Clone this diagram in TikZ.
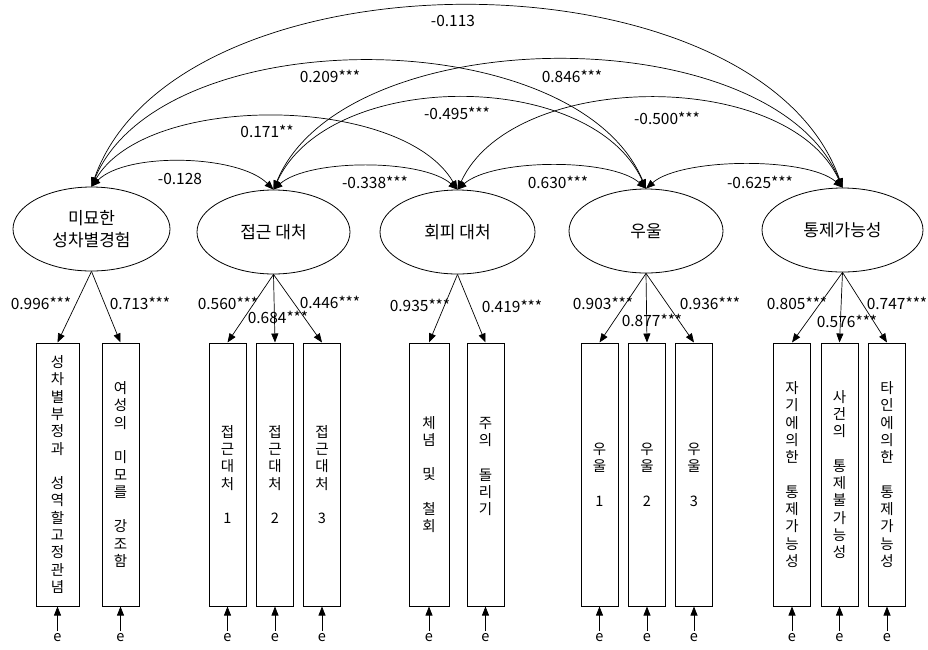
\documentclass[tikz,border=0pt]{standalone}
\usepackage{fontspec}
\setmainfont{Noto Sans CJK KR}
\usetikzlibrary{shapes.geometric,arrows.meta}
\tikzset{
  lat/.style={draw, ellipse, line width=0.8pt, minimum width=155pt, minimum height=84pt, inner sep=0pt, align=center, font=\fontsize{17}{22}\selectfont},
  obs/.style={draw, rectangle, line width=1pt, minimum width=37pt, minimum height=263pt, inner sep=0pt, align=center, font=\fontsize{14.5}{17.3}\selectfont},
  err/.style={inner sep=3pt, font=\fontsize{14.5}{16}\selectfont},
  coef/.style={inner sep=0pt, font=\fontsize{15.5}{17}\selectfont},
  load/.style={-{Triangle[length=9pt,width=7pt]}, line width=0.7pt},
  cov/.style={{Triangle[length=9pt,width=7pt]}-{Triangle[length=9pt,width=7pt]}, line width=0.7pt},
}
\begin{document}
\begin{tikzpicture}[x=1pt,y=-1pt]
\fill[white] (0,0) rectangle (928,649);
\useasboundingbox (0,0) rectangle (928,649);

% latent variables
\node[lat, minimum width=157pt] (e1) at (91.5,229) {미묘한\\성차별경험};
\node[lat, minimum width=153pt] (e2) at (273.5,232) {접근 대처};
\node[lat] (e3) at (457.5,232) {회피 대처};
\node[lat, minimum width=154pt] (e4) at (646,231) {우울};
\node[lat, minimum width=161pt] (e5) at (842.5,230) {통제가능성};

% observed variables
\node[obs, minimum width=43pt] (b1) at (57.5,474.5) {성\\차\\별\\부\\정\\과\\~\\성\\역\\할\\고\\정\\관\\념};
\node[obs] (b2) at (120.5,474.5) {여\\성\\의\\~\\미\\모\\를\\~\\강\\조\\함};
\node[obs] (b3) at (227.5,474.5) {접\\근\\대\\처\\~\\1};
\node[obs] (b4) at (275,474.5) {접\\근\\대\\처\\~\\2};
\node[obs] (b5) at (322,474.5) {접\\근\\대\\처\\~\\3};
\node[obs, minimum width=40pt] (b6) at (429,474.5) {체\\념\\~\\및\\~\\철\\회};
\node[obs] (b7) at (485.5,474.5) {주\\의\\~\\돌\\리\\기\\~};
\node[obs] (b8) at (599.5,474.5) {우\\울\\~\\1};
\node[obs] (b9) at (647,474.5) {우\\울\\~\\2};
\node[obs] (b10) at (694,474.5) {우\\울\\~\\3};
\node[obs] (b11) at (792,474.5) {자\\기\\에\\의\\한\\~\\통\\제\\가\\능\\성};
\node[obs] (b12) at (839.5,474.5) {사\\건\\의\\~\\통\\제\\불\\가\\능\\성};
\node[obs] (b13) at (887,474.5) {타\\인\\에\\의\\한\\~\\통\\제\\가\\능\\성};

% errors
\foreach \i/\x in {1/57.5,2/120.5,3/227.5,4/275,5/322,6/429,7/485.5,8/599.5,9/647,10/694,11/792,12/839.5,13/887}{
  \node[err] (u\i) at (\x,638) {e};
  \draw[load] (u\i.north) -- (b\i.south);
}

% loadings
\draw[load] (e1.south) -- (b1.north);
\draw[load] (e1.south) -- (b2.north);
\draw[load] (e2.south) -- (b3.north);
\draw[load] (e2.south) -- (b4.north);
\draw[load] (e2.south) -- (b5.north);
\draw[load] (e3.south) -- (b6.north);
\draw[load] (e3.south) -- (b7.north);
\draw[load] (e4.south) -- (b8.north);
\draw[load] (e4.south) -- (b9.north);
\draw[load] (e4.south) -- (b10.north);
\draw[load] (e5.south) -- (b11.north);
\draw[load] (e5.south) -- (b12.north);
\draw[load] (e5.south) -- (b13.north);

\node[coef] (l1) at (41,303) {0.996***};
\node[coef] (l2) at (140,303) {0.713***};
\node[coef] (l3) at (228,303) {0.560***};
\node[coef] (l4) at (278,317) {0.684***};
\node[coef] (l5) at (330,302) {0.446***};
\node[coef] (l6) at (420,305) {0.935***};
\node[coef] (l7) at (512,306) {0.419***};
\node[coef] (l8) at (603,303) {0.903***};
\node[coef] (l9) at (652,320) {0.877***};
\node[coef] (l10) at (710,303) {0.936***};
\node[coef] (l11) at (797,303) {0.805***};
\node[coef] (l12) at (847,321) {0.576***};
\node[coef] (l13) at (897,303) {0.747***};

% covariances
\draw[cov] (e1.north) .. controls +(35,-35) and +(-35,-35) .. (e2.north);
\draw[cov] (e2.north) .. controls +(35,-31) and +(-35,-31) .. (e3.north);
\draw[cov] (e3.north) .. controls +(35,-31) and +(-35,-31) .. (e4.north);
\draw[cov] (e4.north) .. controls +(35,-31) and +(-35,-31) .. (e5.north);
\draw[cov] (e1.north) .. controls +(55,-95) and +(-55,-95) .. (e3.north);
\draw[cov] (e2.north) .. controls +(55,-121) and +(-55,-121) .. (e4.north);
\draw[cov] (e3.north) .. controls +(55,-120) and +(-55,-120) .. (e5.north);
\draw[cov] (e1.north) .. controls +(70,-168) and +(-70,-168) .. (e4.north);
\draw[cov] (e2.north) .. controls +(70,-171) and +(-70,-171) .. (e5.north);
\draw[cov] (e1.north) .. controls +(85,-241) and +(-85,-241) .. (e5.north);

\node[coef] (c15) at (453,21) {-0.113};
\node[coef] (c14) at (330,76) {0.209***};
\node[coef] (c25) at (572,76) {0.846***};
\node[coef] (c24) at (457,113) {-0.495***};
\node[coef] (c35) at (667,118) {-0.500***};
\node[coef] (c13) at (267,131) {0.171**};
\node[coef] (c12) at (180,179) {-0.128};
\node[coef] (c23) at (375,182) {-0.338***};
\node[coef] (c34) at (558,182) {0.630***};
\node[coef] (c45) at (760,182) {-0.625***};
\end{tikzpicture}
\end{document}
